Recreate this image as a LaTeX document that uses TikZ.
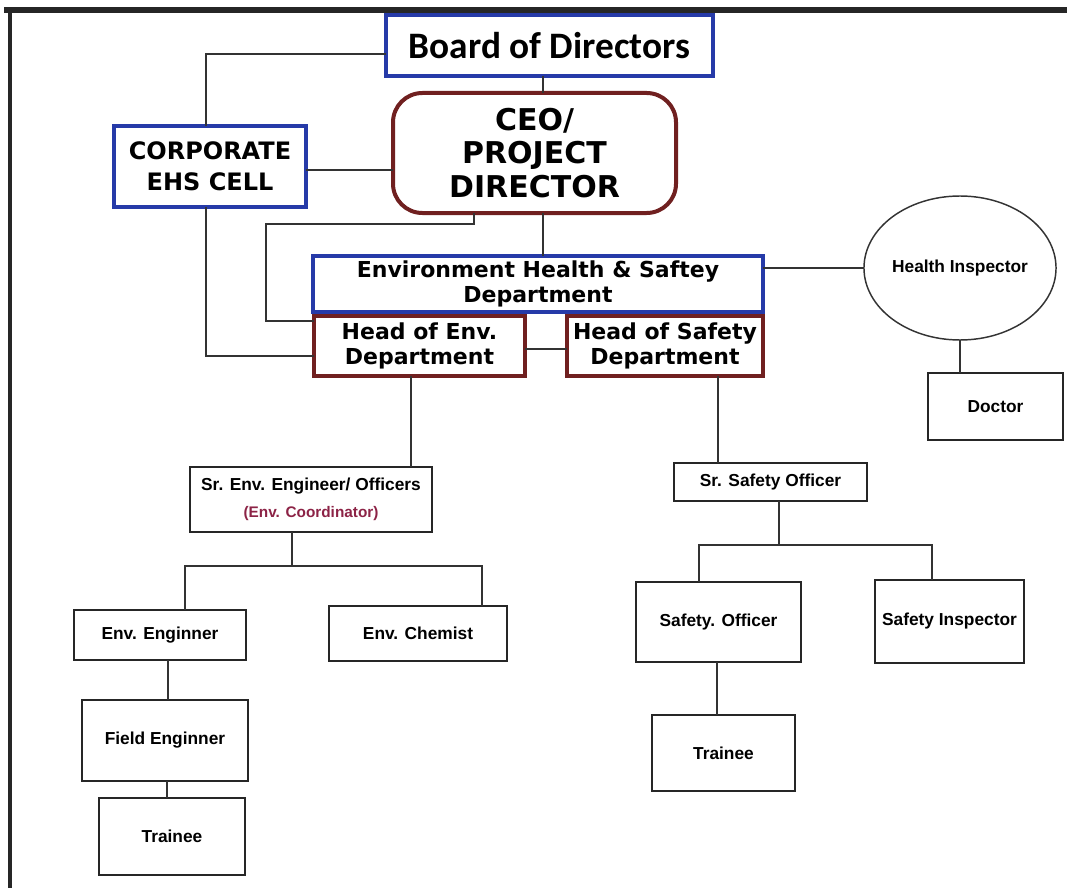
\documentclass[tikz,border=0pt]{standalone}
\usepackage{fontspec}
\setmainfont{Liberation Sans}
\newfontfamily\calibrifont{Carlito}
\newfontfamily\verdfont{DejaVu Sans}
\usetikzlibrary{shapes.geometric}
\definecolor{bxblue}{RGB}{38,58,168}
\definecolor{bxred}{RGB}{112,32,32}
\definecolor{coordred}{RGB}{140,35,70}
\newdimen\pxu \pxu=0.75pt
\begin{document}
\begin{tikzpicture}[x=0.75pt,y=-0.75pt,
  plainbox/.style={draw=black!85, rectangle, inner sep=0pt, outer sep=0pt, align=center, line width=1.4pt},
  bluebox/.style={plainbox, draw=bxblue, line width=3.2pt},
  redbox/.style={plainbox, draw=bxred, line width=3pt},
  smalltext/.style={font=\fontsize{13pt}{15pt}\selectfont\bfseries},
  link/.style={line width=1.1pt, draw=black!80},
  frameline/.style={draw=black!85}
]
\useasboundingbox (0,0) rectangle (1067,888);

% frame
\draw[frameline, line width=3.8pt] (4,10) -- (1067,10);
\draw[frameline, line width=3pt] (10,8) -- (10,888);

% nodes
\node[bluebox, minimum width=327\pxu, minimum height=61\pxu,
      font=\calibrifont\bfseries\fontsize{28pt}{30pt}\selectfont] (board) at (549.5,45.5) {Board of Directors};
\node[redbox, rounded corners=22pt, minimum width=283\pxu, minimum height=120\pxu,
      font=\verdfont\bfseries\fontsize{22.5pt}{25pt}\selectfont] (ceo) at (534.5,153) {CEO/\\PROJECT\\DIRECTOR};
\node[bluebox, minimum width=192\pxu, minimum height=81\pxu,
      font=\verdfont\bfseries\fontsize{18pt}{23pt}\selectfont] (corp) at (210,166.5) {CORPORATE\\EHS CELL};
\node[redbox, minimum width=211\pxu, minimum height=60\pxu,
      font=\verdfont\bfseries\fontsize{16.5pt}{19pt}\selectfont] (henv) at (419.5,346) {Head of Env.\\Department};
\node[redbox, minimum width=196\pxu, minimum height=60\pxu,
      font=\verdfont\bfseries\fontsize{16.5pt}{19pt}\selectfont] (hsafe) at (665,346) {Head of Safety\\Department};
\node[bluebox, minimum width=450\pxu, minimum height=56\pxu,
      font=\verdfont\bfseries\fontsize{16.5pt}{19pt}\selectfont] (ehs) at (538,284) {Environment Health \& Saftey\\Department};
\node[draw=black!80, line width=1.1pt, ellipse, inner sep=0pt, outer sep=0pt,
      minimum width=184\pxu, minimum height=144\pxu, smalltext] (hi) at (960,268) {Health Inspector};
\node[plainbox, minimum width=135\pxu, minimum height=67\pxu, smalltext] (doc) at (995.5,406.5) {Doctor};
\node[plainbox, line width=2pt, minimum width=242\pxu, minimum height=65\pxu, smalltext] (srenv) at (311,499.5)
      {Sr. Env. Engineer/ Officers\\[5pt]{\fontsize{11.5pt}{13pt}\selectfont\color{coordred}(Env. Coordinator)}};
\node[plainbox, minimum width=193\pxu, minimum height=38\pxu, smalltext] (srsafe) at (770.5,482) {Sr. Safety Officer};
\node[plainbox, minimum width=172\pxu, minimum height=50\pxu, smalltext] (enveng) at (160,635) {Env. Enginner};
\node[plainbox, minimum width=178\pxu, minimum height=55\pxu, smalltext] (envchem) at (418,633.5) {Env. Chemist};
\node[plainbox, minimum width=166\pxu, minimum height=81\pxu, smalltext] (fieldeng) at (165,740.5) {Field Enginner};
\node[plainbox, minimum width=146\pxu, minimum height=77\pxu, smalltext] (trainL) at (172,836.5) {Trainee};
\node[plainbox, minimum width=165\pxu, minimum height=80\pxu, smalltext] (so) at (718.5,622) {Safety. Officer};
\node[plainbox, minimum width=149\pxu, minimum height=83\pxu, smalltext] (si) at (949.5,621.5) {Safety Inspector};
\node[plainbox, minimum width=143\pxu, minimum height=76\pxu, smalltext] (trainR) at (723.5,753) {Trainee};

% helper coordinates for connector routing
\coordinate (c1) at (206,54);
\coordinate (x543) at (543,0);
\coordinate (y170) at (0,170);
\coordinate (y356) at (0,356);
\coordinate (k1) at (474,224);
\coordinate (k2) at (266,321);
\coordinate (y349) at (0,349);
\coordinate (x411) at (411,0);
\coordinate (x718) at (718,0);
\coordinate (b1) at (292,566);
\coordinate (b2) at (185,566);
\coordinate (b3) at (482,566);
\coordinate (x168) at (168,0);
\coordinate (x167) at (167,0);
\coordinate (s1) at (779,545);
\coordinate (s2) at (699,545);
\coordinate (s3) at (932,545);
\coordinate (x717) at (717,0);

% connectors
\draw[link] (board.west |- c1) -- (c1) -- (corp.north -| c1);
\draw[link] (board.south -| x543) -- (ceo.north -| x543);
\draw[link] (corp.east |- y170) -- (ceo.west |- y170);
\draw[link] (corp.south -| c1) |- (henv.west |- y356);
\draw[link] (ceo.south -| k1) -- (k1) -| (k2) -- (henv.west |- k2);
\draw[link] (ceo.south -| x543) -- (ehs.north -| x543);
\draw[link] (ehs.east |- hi.west) -- (hi.west);
\draw[link] (hi.south) -- (doc.north -| hi.south);
\draw[link] (henv.east |- y349) -- (hsafe.west |- y349);
\draw[link] (henv.south -| x411) -- (srenv.north -| x411);
\draw[link] (hsafe.south -| x718) -- (srsafe.north -| x718);
\draw[link] (srenv.south -| b1) -- (b1);
\draw[link] (enveng.north -| b2) -- (b2) -- (b3) -- (envchem.north -| b3);
\draw[link] (enveng.south -| x168) -- (fieldeng.north -| x168);
\draw[link] (fieldeng.south -| x167) -- (trainL.north -| x167);
\draw[link] (srsafe.south -| s1) -- (s1);
\draw[link] (so.north -| s2) -- (s2) -- (s3) -- (si.north -| s3);
\draw[link] (so.south -| x717) -- (trainR.north -| x717);
\end{tikzpicture}
\end{document}
